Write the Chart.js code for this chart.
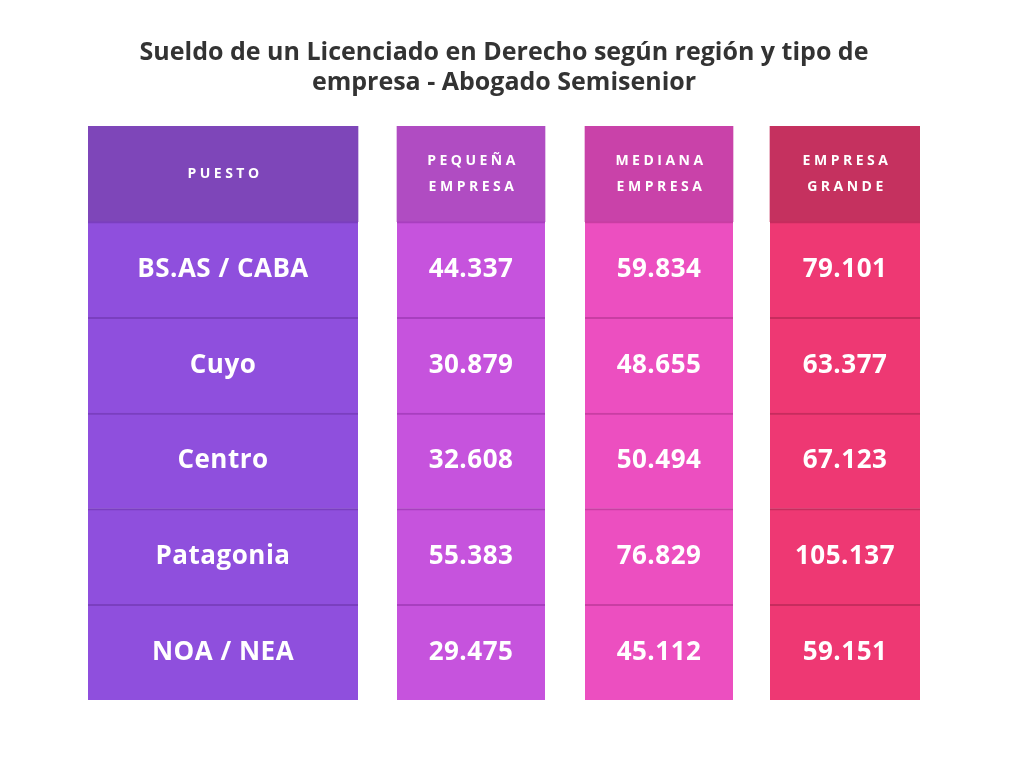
<!DOCTYPE html>
<html>
<head>
<meta charset="utf-8">
<script src="https://cdn.jsdelivr.net/npm/chart.js@4.4.1/dist/chart.umd.min.js"></script>
<style>
  html, body { margin: 0; padding: 0; background: #ffffff; }
  #wrap { width: 1024px; height: 768px; }
</style>
</head>
<body>
<div id="wrap"><canvas id="salaryTable" width="1024" height="768"></canvas></div>
<script>
// Table data
const headers = ['PUESTO', 'PEQUEÑA\nEMPRESA', 'MEDIANA\nEMPRESA', 'EMPRESA\nGRANDE'];
const regions = ['BS.AS / CABA', 'Cuyo', 'Centro', 'Patagonia', 'NOA / NEA'];
const pequena = [44337, 30879, 32608, 55383, 29475];
const mediana = [59834, 48655, 50494, 76829, 45112];
const grande = [79101, 63377, 67123, 105137, 59151];

// Layout: horizontal span of each column (x-scale units) and colours
const colSpans = [[0, 270], [309, 457], [497, 645], [682, 832]];
const headColors = ['#7e46b9', '#b04cc2', '#c942a9', '#c5315f'];
const bodyColors = ['#8f4fdd', '#c653dd', '#ec4fc0', '#ee3873'];
const lineColors = ['#7a3fbf', '#a83fbf', '#c93ea3', '#c72c5e'];

function fmt(n) {
    return String(n).replace(/\B(?=(\d{3})+(?!\d))/g, '.');
}

const rowLabels = ['header'].concat(regions);
const cellText = [
    [headers[0]].concat(regions),
    [headers[1]].concat(pequena.map(fmt)),
    [headers[2]].concat(mediana.map(fmt)),
    [headers[3]].concat(grande.map(fmt))
];

const datasets = colSpans.map((span, c) => ({
    label: headers[c],
    data: rowLabels.map(() => span),
    backgroundColor: rowLabels.map((r, i) => i === 0 ? headColors[c] : bodyColors[c]),
    borderColor: lineColors[c],
    borderWidth: rowLabels.map((r, i) => i === 0 ? 0 : { top: 2, bottom: 0, left: 0, right: 0 }),
    borderSkipped: false,
    barPercentage: 1,
    categoryPercentage: 1,
    grouped: false
}));

// Draws the cell text at each bar's centre
const cellTextPlugin = {
    id: 'cellText',
    afterDatasetsDraw(chart) {
        const ctx = chart.ctx;
        ctx.save();
        ctx.fillStyle = '#ffffff';
        ctx.textAlign = 'center';
        ctx.textBaseline = 'middle';
        chart.data.datasets.forEach((ds, c) => {
            chart.getDatasetMeta(c).data.forEach((bar, r) => {
                const cx = (bar.x + bar.base) / 2;
                const text = cellText[c][r];
                if (r === 0) {
                    ctx.font = 'bold 14px "Open Sans"';
                    ctx.letterSpacing = '3.5px';
                    const lines = text.split('\n');
                    lines.forEach((ln, k) => {
                        ctx.fillText(ln, cx + 2, bar.y + (k - (lines.length - 1) / 2) * 26);
                    });
                } else {
                    ctx.font = 'bold 26px "Open Sans"';
                    ctx.letterSpacing = '0.5px';
                    ctx.fillText(text, cx, bar.y);
                }
            });
        });
        ctx.restore();
    }
};

new Chart(document.getElementById('salaryTable').getContext('2d'), {
    type: 'bar',
    data: { labels: rowLabels, datasets: datasets },
    options: {
        indexAxis: 'y',
        responsive: false,
        animation: false,
        layout: { padding: { left: 88, right: 104, top: 38, bottom: 68 } },
        plugins: {
            legend: { display: false },
            tooltip: { enabled: false },
            title: {
                display: true,
                text: ['Sueldo de un Licenciado en Derecho según región y tipo de', 'empresa - Abogado Semisenior'],
                color: '#333333',
                font: { family: '"Open Sans"', size: 25, weight: 'bold' },
                lineHeight: 1.3,
                padding: { top: 0, bottom: 28 }
            }
        },
        scales: {
            x: { type: 'linear', min: 0, max: 832, display: false },
            y: { display: false }
        }
    },
    plugins: [cellTextPlugin]
});
</script>
</body>
</html>
